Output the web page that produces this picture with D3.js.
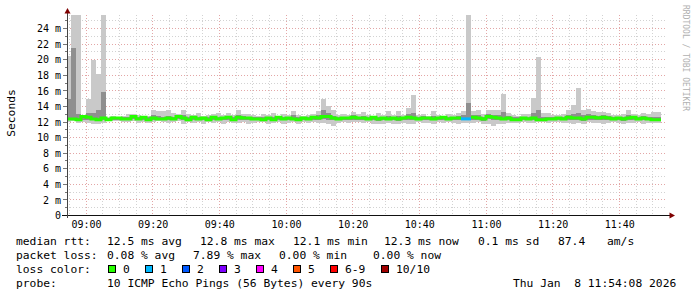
<!DOCTYPE html>
<html>
<head>
<meta charset="utf-8">
<script src="https://cdn.jsdelivr.net/npm/d3@7"></script>
<style>
  body { margin: 0; background: #fff; }
  svg text { font-family: "DejaVu Sans Mono", monospace; }
</style>
</head>
<body>
<div id="chart"></div>
<script>
// one column every 90s, first one starts 08:54:00
const stepSeconds = 90;
const firstStep = new Date(2026, 0, 8, 8, 54, 0);

// median rtt per step (ms)
const rttMedian = [
  12.4, 12.4, 12.3, 12.7, 12.6, 12.4, 12.3, 12.5, 12.3, 12.5,
  12.5, 12.4, 12.4, 12.7, 12.4, 12.6, 12.3, 12.5, 12.4, 12.4,
  12.5, 12.4, 12.7, 12.5, 12.3, 12.6, 12.4, 12.5, 12.3, 12.6,
  12.4, 12.5, 12.6, 12.3, 12.6, 12.5, 12.5, 12.4, 12.4, 12.3,
  12.5, 12.3, 12.6, 12.4, 12.5, 12.4, 12.3, 12.5, 12.4, 12.6,
  12.5, 12.7, 12.7, 12.5, 12.4, 12.5, 12.5, 12.6, 12.5, 12.5,
  12.4, 12.6, 12.4, 12.5, 12.4, 12.5, 12.4, 12.5, 12.6, 12.5,
  12.4, 12.5, 12.5, 12.4, 12.5, 12.6, 12.4, 12.5, 12.5, 12.4,
  12.4, 12.6, 12.5, 12.4, 12.7, 12.6, 12.5, 12.4, 12.5, 12.3,
  12.3, 12.5, 12.4, 12.5, 12.3, 12.3, 12.4, 12.4, 12.5, 12.4,
  12.6, 12.5, 12.5, 12.4, 12.6, 12.6, 12.5, 12.6, 12.5, 12.4,
  12.5, 12.4, 12.5, 12.6, 12.4, 12.5, 12.4, 12.3, 12.3
];

// fastest ping per step
const rttMin = [
  12.0, 12.1, 11.9, 12.0, 11.9, 11.8, 11.8, 11.9, 12.1, 12.1,
  12.1, 12.0, 12.0, 12.1, 11.9, 12.0, 11.9, 12.0, 12.1, 12.0,
  11.9, 12.0, 12.1, 11.8, 12.0, 11.9, 12.0, 11.7, 12.0, 11.9,
  12.0, 11.8, 12.0, 11.9, 11.9, 12.0, 11.8, 11.9, 12.0, 12.0,
  11.8, 11.9, 12.0, 11.7, 11.9, 12.0, 11.8, 12.0, 11.9, 12.0,
  11.9, 11.9, 11.7, 11.5, 11.9, 12.0, 11.9, 12.0, 12.0, 11.9,
  12.0, 11.8, 11.7, 11.8, 11.9, 11.7, 11.8, 11.9, 11.7, 11.8,
  12.0, 11.9, 11.9, 11.8, 12.0, 11.9, 12.0, 11.9, 11.8, 11.9,
  11.9, 11.9, 12.0, 11.8, 11.7, 11.5, 11.7, 11.8, 11.9, 11.9,
  11.9, 12.0, 11.9, 11.9, 12.0, 12.0, 11.9, 12.0, 12.0, 11.9,
  11.9, 11.8, 11.9, 11.8, 12.0, 11.9, 11.9, 11.8, 11.9, 12.0,
  11.9, 11.8, 11.9, 11.9, 12.0, 11.7, 11.9, 11.9, 11.9
];

// slowest ping per step
const rttMax = [
  20.5, 26.5, 26.5, 12.8, 15.0, 20.0, 18.2, 26.5, 12.6, 12.8,
  12.7, 12.8, 13.0, 13.0, 12.9, 12.7, 12.8, 13.5, 13.4, 13.4,
  13.5, 13.1, 13.0, 13.6, 13.0, 12.9, 13.1, 12.8, 12.9, 13.0,
  13.1, 12.9, 13.1, 12.9, 13.5, 13.0, 13.0, 12.9, 12.8, 13.0,
  12.9, 13.1, 12.8, 13.0, 12.9, 13.4, 12.9, 12.8, 12.9, 13.0,
  13.4, 15.0, 14.0, 13.5, 12.9, 13.0, 12.9, 13.3, 13.0, 13.3,
  12.9, 12.8, 13.1, 12.9, 13.4, 12.9, 13.4, 12.9, 13.8, 15.5,
  12.9, 13.0, 12.8, 13.4, 12.9, 12.8, 13.0, 12.9, 13.1, 13.4,
  26.5, 13.4, 13.5, 13.0, 13.5, 13.6, 13.6, 15.6, 13.1, 12.9,
  12.8, 13.0, 13.0, 15.1, 20.3, 13.2, 13.1, 12.9, 12.9, 13.0,
  13.6, 14.2, 16.4, 13.6, 13.7, 13.4, 13.3, 13.3, 13.1, 12.9,
  12.9, 13.0, 13.6, 13.0, 12.9, 13.1, 13.0, 13.3, 13.3
];

// inner smoke band (middle pings)
const rttLow = [
  12.2, 12.2, 12.1, 12.3, 12.3, 12.2, 12.1, 12.2, 12.2, 12.3,
  12.3, 12.2, 12.2, 12.4, 12.2, 12.3, 12.1, 12.2, 12.2, 12.2,
  12.2, 12.2, 12.4, 12.2, 12.1, 12.3, 12.2, 12.2, 12.1, 12.3,
  12.2, 12.2, 12.3, 12.1, 12.3, 12.2, 12.2, 12.2, 12.2, 12.1,
  12.2, 12.1, 12.3, 12.2, 12.2, 12.2, 12.1, 12.2, 12.2, 12.3,
  12.2, 12.4, 12.3, 12.2, 12.2, 12.3, 12.2, 12.3, 12.3, 12.2,
  12.2, 12.3, 12.1, 12.2, 12.2, 12.2, 12.1, 12.2, 12.3, 12.2,
  12.2, 12.3, 12.2, 12.2, 12.3, 12.3, 12.2, 12.2, 12.2, 12.2,
  12.2, 12.3, 12.2, 12.1, 12.4, 12.3, 12.2, 12.2, 12.2, 12.1,
  12.1, 12.3, 12.2, 12.2, 12.1, 12.1, 12.2, 12.2, 12.3, 12.2,
  12.3, 12.2, 12.2, 12.1, 12.3, 12.3, 12.2, 12.3, 12.2, 12.2,
  12.2, 12.1, 12.2, 12.3, 12.2, 12.2, 12.2, 12.1, 12.1
];
const rttHigh = [
  15.0, 21.5, 13.0, 12.9, 13.2, 13.1, 13.6, 15.9, 12.5, 12.7,
  12.7, 12.6, 12.7, 12.9, 12.7, 12.8, 12.6, 12.9, 12.8, 12.7,
  12.8, 12.7, 12.9, 12.9, 12.6, 12.8, 12.7, 12.7, 12.6, 12.8,
  12.7, 12.7, 12.8, 12.6, 12.9, 12.8, 12.7, 12.7, 12.6, 12.6,
  12.7, 12.6, 12.8, 12.7, 12.7, 12.9, 12.6, 12.7, 12.7, 12.8,
  12.9, 13.5, 13.2, 12.8, 12.7, 12.7, 12.7, 12.9, 12.7, 12.8,
  12.7, 12.8, 12.7, 12.7, 12.8, 12.7, 12.8, 12.7, 13.0, 13.1,
  12.7, 12.8, 12.7, 12.8, 12.7, 12.8, 12.7, 12.7, 12.8, 12.9,
  14.4, 12.9, 12.9, 12.7, 13.0, 12.9, 12.9, 13.3, 12.8, 12.6,
  12.6, 12.7, 12.7, 13.2, 13.5, 12.6, 12.7, 12.6, 12.7, 12.7,
  12.9, 13.0, 13.2, 12.9, 13.0, 12.9, 12.8, 12.9, 12.8, 12.7,
  12.7, 12.7, 12.9, 12.8, 12.7, 12.8, 12.7, 12.6, 12.6
];

// lost pings (of 10) per step
const lostPings = [
  0, 0, 0, 0, 0, 0, 0, 0, 0, 0,
  0, 0, 0, 0, 0, 0, 0, 0, 0, 0,
  0, 0, 0, 0, 0, 0, 0, 0, 0, 0,
  0, 0, 0, 0, 0, 0, 0, 0, 0, 0,
  0, 0, 0, 0, 0, 0, 0, 0, 0, 0,
  0, 0, 0, 0, 0, 0, 0, 0, 0, 0,
  0, 0, 0, 0, 0, 0, 0, 0, 0, 0,
  0, 0, 0, 0, 0, 0, 0, 0, 0, 1,
  1, 0, 0, 0, 0, 0, 0, 0, 0, 0,
  0, 0, 0, 0, 0, 0, 0, 0, 0, 0,
  0, 0, 0, 0, 0, 0, 0, 0, 0, 0,
  0, 0, 0, 0, 0, 0, 0, 0, 0
];

const yTicks = [0, 2, 4, 6, 8, 10, 12, 14, 16, 18, 20, 22, 24];
const timeTicks = ["09:00", "09:20", "09:40", "10:00", "10:20", "10:40", "11:00", "11:20", "11:40"];

const lossLabels = ["0", "1", "2", "3", "4", "5", "6-9", "10/10"];
const lossColors = ["#26ff00", "#00b8ff", "#0059ff", "#7e00ff", "#ff00ff", "#ff5500", "#ff0000", "#a10000"];

const legendRows = [
  [["median rtt:", 16], ["12.5 ms avg", 107], ["12.8 ms max", 200], ["12.1 ms min", 293], ["12.3 ms now", 384], ["0.1 ms sd", 478], ["87.4", 558], ["am/s", 607]],
  [["packet loss:", 16], ["0.08 % avg", 107], ["7.89 % max", 193], ["0.00 % min", 279], ["0.00 % now", 373]],
  [["loss color:", 16]],
  [["probe:", 16], ["10 ICMP Echo Pings (56 Bytes) every 90s", 107], ["Thu Jan  8 11:54:08 2026", 513]]
];
const lossBoxX = [108, 145, 182, 219, 256, 293, 330, 381];

const W = 697, H = 297;
const plotLeft = 67, plotRight = 667, plotTop = 15, plotBottom = 215;

const parseHM = d3.timeParse("%Y-%m-%d %H:%M");
const x = d3.scaleTime()
  .domain([new Date(2026, 0, 8, 8, 54, 18), new Date(2026, 0, 8, 11, 54, 18)])
  .range([plotLeft, plotRight]);
const y = d3.scaleLinear().domain([0, 24]).range([215.5, 28.5]);
const crispY = v => Math.floor(y(v)) + 0.5;
const crispX = t => Math.floor(x(t)) + 0.5;

const rows = rttMedian.map((m, i) => ({
  t0: d3.timeSecond.offset(firstStep, i * stepSeconds),
  t1: d3.timeSecond.offset(firstStep, (i + 1) * stepSeconds),
  med: m, min: rttMin[i], max: rttMax[i], low: rttLow[i], high: rttHigh[i],
  loss: lostPings[i]
}));

const svg = d3.select("#chart").append("svg")
  .attr("width", W).attr("height", H)
  .style("display", "block");
svg.append("rect").attr("width", W).attr("height", H).attr("fill", "#fff");

svg.append("defs").append("clipPath").attr("id", "plot")
  .append("rect").attr("x", plotLeft).attr("y", plotTop)
  .attr("width", plotRight - plotLeft).attr("height", plotBottom - plotTop + 1);

// grid
const grid = svg.append("g");
const minorY = d3.range(1, 26);
grid.selectAll(".gy").data(minorY).enter().append("line")
  .attr("x1", plotLeft).attr("x2", plotRight)
  .attr("y1", d => crispY(d)).attr("y2", d => crispY(d))
  .attr("stroke", d => d % 2 === 0 ? "#e3a6a6" : "#d2d2d2")
  .attr("stroke-dasharray", "1,2");
const gridTimes = d3.timeMinute.every(5).range(x.domain()[0], x.domain()[1]);
grid.selectAll(".gx").data(gridTimes).enter().append("line")
  .attr("x1", d => crispX(d)).attr("x2", d => crispX(d))
  .attr("y1", plotTop).attr("y2", plotBottom)
  .attr("stroke", d => d.getMinutes() % 20 === 0 ? "#e3a6a6" : "#d2d2d2")
  .attr("stroke-dasharray", "1,2");

// smoke
const plot = svg.append("g").attr("clip-path", "url(#plot)");
plot.selectAll(".outer").data(rows).enter().append("rect")
  .attr("x", d => x(d.t0)).attr("width", d => x(d.t1) - x(d.t0))
  .attr("y", d => y(d.max)).attr("height", d => y(d.min) - y(d.max))
  .attr("fill", "#c9c9c9").attr("shape-rendering", "crispEdges");
plot.selectAll(".inner").data(rows).enter().append("rect")
  .attr("x", d => x(d.t0)).attr("width", d => x(d.t1) - x(d.t0))
  .attr("y", d => y(d.high)).attr("height", d => y(d.low) - y(d.high))
  .attr("fill", "#8f8f8f").attr("shape-rendering", "crispEdges");

// median line, one run per loss colour
let runs = [];
rows.forEach(d => {
  const last = runs[runs.length - 1];
  if (last && last.loss === d.loss) last.pts.push(d);
  else runs.push({ loss: d.loss, pts: [d] });
});
const stepLine = d3.line().curve(d3.curveStepAfter).x(p => p[0]).y(p => p[1]);
runs.forEach(r => {
  const pts = r.pts.map(d => [x(d.t0), y(d.med)]);
  const lastPt = r.pts[r.pts.length - 1];
  pts.push([x(lastPt.t1), y(lastPt.med)]);
  plot.append("path").attr("d", stepLine(pts))
    .attr("fill", "none").attr("stroke", lossColors[Math.min(r.loss, 7)])
    .attr("stroke-width", 3);
});

// axes
const ax = svg.append("g");
ax.selectAll(".ty").data(minorY.concat([0])).enter().append("line")
  .attr("x1", d => d % 2 === 0 ? 63 : 65).attr("x2", plotLeft)
  .attr("y1", d => crispY(d)).attr("y2", d => crispY(d))
  .attr("stroke", "#777");
ax.append("line").attr("x1", 62).attr("x2", 670).attr("y1", 215.5).attr("y2", 215.5).attr("stroke", "#111");
ax.append("line").attr("x1", 67.5).attr("x2", 67.5).attr("y1", 12).attr("y2", 218).attr("stroke", "#444");
ax.append("path").attr("d", "M67.5,8L64.5,13.5L70.5,13.5Z").attr("fill", "#7f0000");
ax.append("path").attr("d", "M675,215.5L669.5,212.5L669.5,218.5Z").attr("fill", "#7f0000");

// y labels
svg.append("g").attr("transform", "translate(61,0)")
  .call(d3.axisLeft(y).tickValues(yTicks).tickSize(0).tickPadding(0)
    .tickFormat(d => d === 0 ? "0" : d + " m"))
  .call(g => g.select(".domain").remove())
  .selectAll("text")
  .attr("font-family", "DejaVu Sans Mono").attr("font-size", 10).attr("fill", "#000");

// x labels
svg.append("g").attr("transform", "translate(0,218)")
  .call(d3.axisBottom(x)
    .tickValues(timeTicks.map(s => parseHM("2026-01-08 " + s)))
    .tickSize(0).tickPadding(3).tickFormat(d3.timeFormat("%H:%M")))
  .call(g => g.select(".domain").remove())
  .selectAll("text")
  .attr("font-family", "DejaVu Sans Mono").attr("font-size", 10).attr("fill", "#000");

svg.append("text").attr("transform", "translate(15,113) rotate(-90)")
  .attr("text-anchor", "middle").attr("font-size", 11.3).text("Seconds");

svg.append("text").attr("transform", "translate(683,5) rotate(90)")
  .attr("font-size", 8).attr("fill", "#b0b0b0").text("RRDTOOL / TOBI OETIKER");

// legend
const baselines = [244.5, 258.5, 272.5, 286.5];
legendRows.forEach((row, r) => {
  svg.selectAll(null).data(row).enter().append("text")
    .attr("x", d => d[1]).attr("y", baselines[r])
    .attr("font-size", 11.3)
    .style("white-space", "pre")
    .text(d => d[0]);
});
const lg = svg.append("g");
lg.selectAll("rect").data(lossLabels).enter().append("rect")
  .attr("x", (d, i) => lossBoxX[i] + 0.5).attr("y", 265.5)
  .attr("width", 7).attr("height", 7)
  .attr("fill", (d, i) => lossColors[i]).attr("stroke", "#000");
lg.selectAll("text").data(lossLabels).enter().append("text")
  .attr("x", (d, i) => lossBoxX[i] + 15).attr("y", 272.5)
  .attr("font-size", 11.3).text(d => d);
</script>
</body>
</html>
